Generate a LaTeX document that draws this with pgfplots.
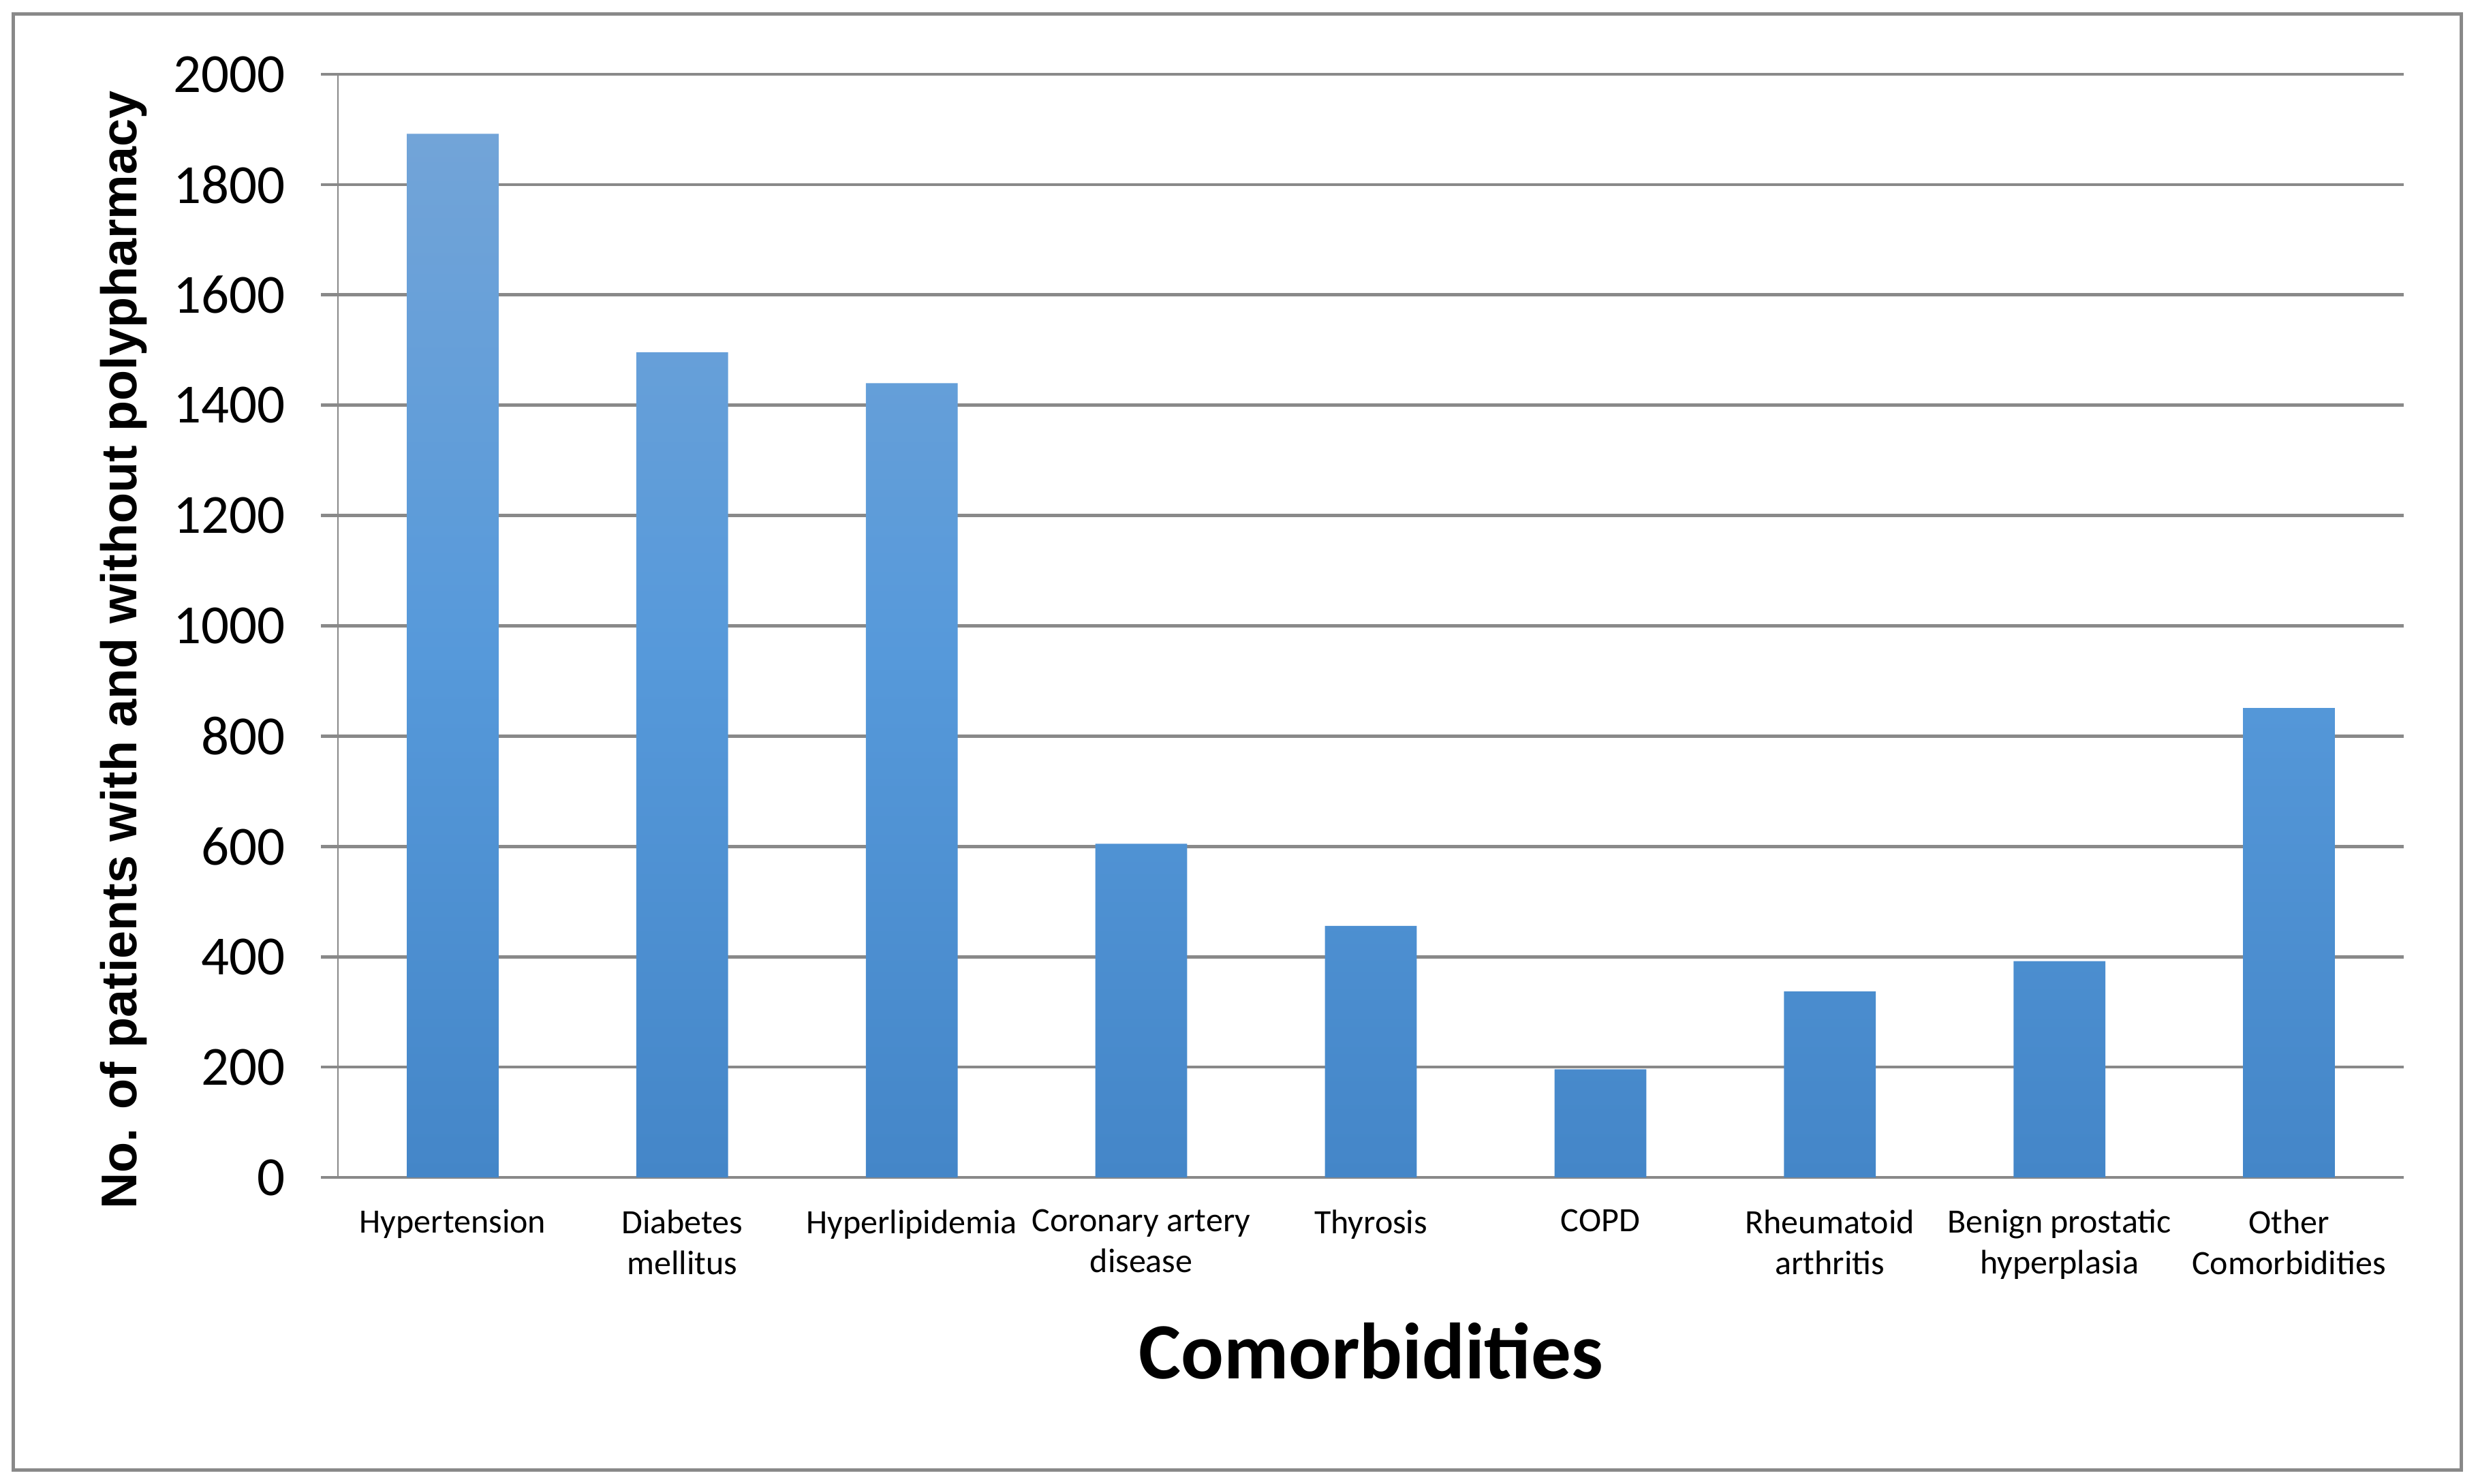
\documentclass[border=0pt]{standalone}
\usepackage{fontspec}
\setmainfont{Carlito}
\newfontfamily\yfont{Liberation Sans}
\usepackage{pgfplots}
\pgfplotsset{compat=1.18}
\definecolor{gridgray}{HTML}{898989}
\definecolor{bartop}{HTML}{72A4D8}
\definecolor{barmid}{HTML}{5699DA}
\definecolor{barbot}{HTML}{4486C8}

\begin{document}
\begin{tikzpicture}
\useasboundingbox (-49.6pt,-44.9pt) rectangle (314.1pt,172.8pt);
\draw[gridgray, line width=0.5pt] (-47.6pt,-42.9pt) rectangle (311.6pt,170.8pt);
\begin{axis}[
  at={(0,0)}, anchor=south west,
  scale only axis, width=303.2pt, height=161.9pt,
  ybar,
  xmin=-0.5, xmax=8.5, ymin=0, ymax=2000,
  axis x line=bottom, axis y line=left,
  x axis line style={-, gridgray, line width=0.47pt},
  y axis line style={-, gridgray, line width=0.25pt},
  ymajorgrids,
  major grid style={gridgray, line width=0.47pt},
  ytick={0,200,...,2000},
  xtick={0,...,8},
  xticklabels={Hypertension, {Diabetes\\mellitus}, Hyperlipidemia,
    {Coronary artery\\disease}, Thyrosis, COPD, {Rheumatoid\\arthritis},
    {Benign prostatic\\hyperplasia}, {Other\\Comorbidities}},
  minor xtick={-0.5,0.5,...,8.5},
  tick align=outside,
  major tick length=2.5pt,
  minor tick length=2pt,
  xtick style={draw=none},
  ytick style={gridgray, line width=0.47pt},
  every minor tick/.style={gridgray, line width=0.3pt},
  /pgf/number format/assume math mode=true,
  /pgf/number format/1000 sep={},
  yticklabel style={font=\fontsize{8.1}{9}\selectfont, anchor=east, xshift=-1.7pt},
  xticklabel style={font=\fontsize{5}{6}\selectfont, align=center, anchor=north, yshift=1.3pt},
  xlabel={Comorbidities},
  xlabel style={font=\fontsize{11.7}{14}\selectfont\bfseries, at={(rel axis cs:0.5,-0.1575)}, anchor=center},
  ylabel={\yfont\bfseries No. of patients with and without polypharmacy},
  ylabel style={font=\fontsize{7.37}{8}\selectfont, at={(rel axis cs:-0.1039,0.478)}, anchor=center, rotate=0},
]
  \addplot[bar width=0.4, draw=none, top color=bartop, bottom color=barbot, middle color=barmid]
    coordinates {
      (0,1892) (1,1496) (2,1440) (3,605) (4,456)
      (5,196) (6,337) (7,392) (8,851)
    };
\end{axis}
\end{tikzpicture}
\end{document}
